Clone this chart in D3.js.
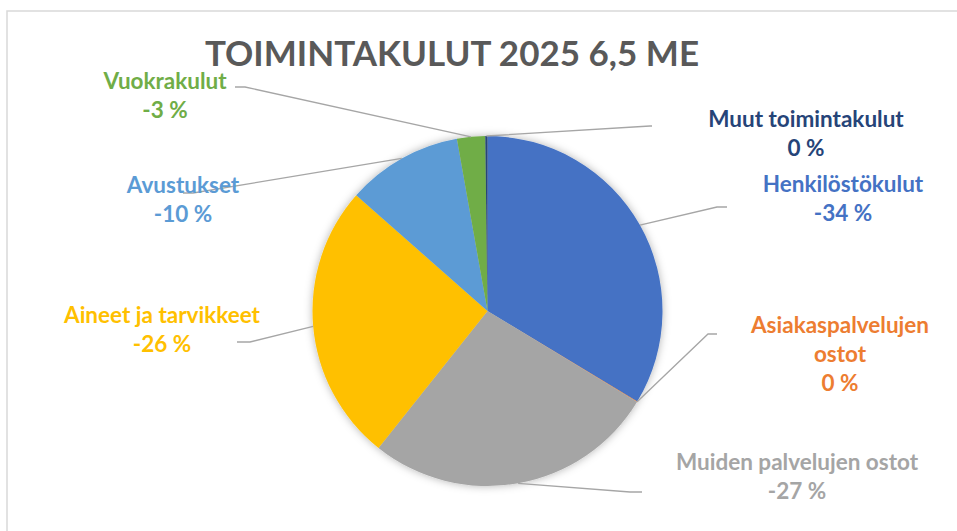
<!DOCTYPE html>
<html>
<head>
<meta charset="utf-8">
<script src="https://cdn.jsdelivr.net/npm/d3@7/dist/d3.min.js"></script>
<style>
  html, body { margin: 0; padding: 0; background: #fff; }
  svg { display: block; }
</style>
</head>
<body>
<svg id="chart" width="957" height="531"></svg>
<script>
// ---- Data ----
const title = "TOIMINTAKULUT 2025 6,5 ME";
const categories = ["Henkilöstökulut", "Asiakaspalvelujen ostot", "Muiden palvelujen ostot", "Aineet ja tarvikkeet", "Avustukset", "Vuokrakulut", "Muut toimintakulut"];
const shares = [33.65, 0.05, 27.0, 25.8, 10.7, 2.6, 0.2];
const percentLabels = ["-34 %", "0 %", "-27 %", "-26 %", "-10 %", "-3 %", "0 %"];
const colors = ["#4472C4", "#ED7D31", "#A5A5A5", "#FFC000", "#5B9BD5", "#70AD47", "#264478"];

// ---- Layout ----
const W = 957, H = 531;
const cx = 487.5, cy = 311, R = 175;
const labelLayout = [
  { lines: ["Henkilöstökulut"], x: 843, y: 192, elbow: [717, 207], end: [727, 207] },
  { lines: ["Asiakaspalvelujen", "ostot"], x: 840, y: 333, elbow: [708, 334], end: [717, 334] },
  { lines: ["Muiden palvelujen ostot"], x: 797, y: 470, elbow: [630, 492], end: [642, 492] },
  { lines: ["Aineet ja tarvikkeet"], x: 162, y: 323, elbow: [250, 342], end: [237, 342] },
  { lines: ["Avustukset"], x: 183, y: 193, elbow: [193, 193], end: [183, 193] },
  { lines: ["Vuokrakulut"], x: 165, y: 89, elbow: [245, 87], end: [235, 87] },
  { lines: ["Muut toimintakulut"], x: 806, y: 127, elbow: [650, 126], end: [652, 126] }
];
const lineGap = 29;

const svg = d3.select("#chart");

const defs = svg.append("defs");
const f = defs.append("filter").attr("id", "shadow").attr("x", "-20%").attr("y", "-20%").attr("width", "140%").attr("height", "140%");
f.append("feDropShadow").attr("dx", 0).attr("dy", 0).attr("stdDeviation", 4).attr("flood-color", "#000").attr("flood-opacity", 0.3);

// frame
svg.append("rect").attr("x", 7).attr("y", 11).attr("width", 1000).attr("height", 1000)
  .attr("fill", "none").attr("stroke", "#d9d9d9").attr("stroke-width", 1.5);

// title
svg.append("text").attr("x", 452).attr("y", 66).attr("text-anchor", "middle")
  .attr("font-family", "Lato, sans-serif").attr("font-weight", 700).attr("font-size", 35)
  .attr("fill", "#595959").text(title);

const data = categories.map((c, i) => ({ name: c, value: shares[i], pct: percentLabels[i], color: colors[i], layout: labelLayout[i] }));

const pie = d3.pie().value(d => d.value).sort(null);
const arcs = pie(data);
const arc = d3.arc().innerRadius(0).outerRadius(R);
const edgeArc = d3.arc().innerRadius(R).outerRadius(R);

const g = svg.append("g").attr("transform", `translate(${cx},${cy})`);
g.append("g").attr("filter", "url(#shadow)")
  .selectAll("path").data(arcs).join("path")
  .attr("d", arc).attr("fill", d => d.data.color);

// leader lines
svg.append("g").selectAll("polyline").data(arcs).join("polyline")
  .attr("points", d => {
    const c = edgeArc.centroid(d);
    const L = d.data.layout;
    return [[cx + c[0], cy + c[1]], L.elbow, L.end].map(p => p.join(",")).join(" ");
  })
  .attr("fill", "none").attr("stroke", "#a6a6a6").attr("stroke-width", 1.3);

// labels
const lg = svg.append("g").attr("font-family", "Lato, sans-serif").attr("font-weight", 700).attr("font-size", 22.5).attr("text-anchor", "middle");
arcs.forEach(d => {
  const L = d.data.layout;
  const lines = L.lines.concat([d.data.pct]);
  lines.forEach((t, k) => {
    lg.append("text").attr("x", L.x).attr("y", L.y + k * lineGap).attr("fill", d.data.color).text(t);
  });
});
</script>
</body>
</html>
